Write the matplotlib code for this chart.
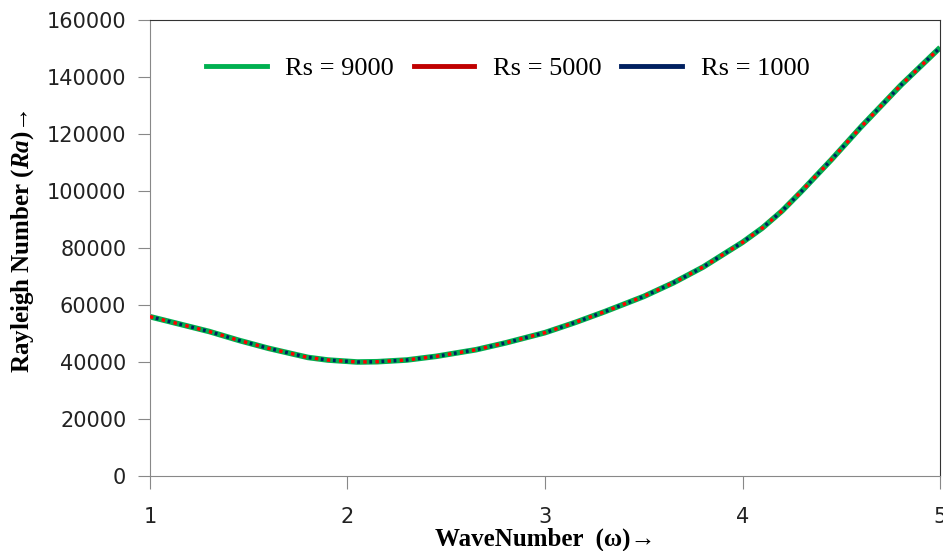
import numpy as np
import matplotlib
matplotlib.use('Agg')
import matplotlib.pyplot as plt
from matplotlib.lines import Line2D

plt.rcParams['mathtext.fontset'] = 'custom'
plt.rcParams['mathtext.it'] = 'Liberation Serif:italic:bold'
plt.rcParams['mathtext.rm'] = 'Liberation Serif:bold'

# wave number and critical Rayleigh number (curves coincide for all Rs)
wave = [1.0, 1.3, 1.45, 1.6, 1.8, 1.9, 2.05, 2.15, 2.3, 2.45, 2.65, 2.8, 3.0,
        3.15, 3.3, 3.5, 3.65, 3.8, 4.0, 4.1, 4.2, 4.3, 4.45, 4.6, 4.8, 5.0]
ra_9000 = [55900, 50700, 47600, 44800, 41600, 40700, 40000, 40100, 40700,
           42000, 44300, 46700, 50300, 53800, 57600, 63000, 67800, 73300,
           82000, 87000, 93000, 100000, 111000, 122500, 137000, 150300]
ra_5000 = list(ra_9000)
ra_1000 = list(ra_9000)
labels = ['Rs = 9000', 'Rs = 5000', 'Rs = 1000']
colors = ['#00b050', '#c00000', '#002060']

fig = plt.figure(figsize=(9.43, 5.51), dpi=100)
ax = fig.add_axes([0.159, 0.136, 0.838, 0.828])

ax.plot(wave, ra_9000, color=colors[0], lw=4, solid_capstyle='butt', zorder=2)
ax.plot(wave, ra_5000, color='#ff0000', lw=2.5, ls=(0, (1.0, 2.5)), zorder=3)
ax.plot(wave, ra_1000, color=colors[2], lw=2.5, ls=(-1.75, (0.8, 2.7)), zorder=4)

ax.set_xlim(1, 5)
ax.set_ylim(0, 160000)
ax.set_xticks([1, 2, 3, 4, 5])
ax.set_yticks(np.arange(0, 160001, 20000))
ax.tick_params(axis='both', direction='out', length=9, color='#888888',
               labelsize=15, labelcolor='#222222')
ax.tick_params(axis='x', pad=13)
ax.tick_params(axis='y', pad=8)
for side in ['left', 'bottom']:
    ax.spines[side].set_color('#888888')
for side in ['top', 'right']:
    ax.spines[side].set_color('#333333')

ax.set_xlabel('WaveNumber  (\u03c9)\u2192', fontfamily='Liberation Serif',
              fontweight='bold', fontsize=18)
ax.set_ylabel('Rayleigh Number ($Ra$)\u2192', fontfamily='Liberation Serif',
              fontweight='bold', fontsize=18)
ax.xaxis.set_label_coords(0.5, -0.112)
ax.yaxis.set_label_coords(-0.144, 0.515)

handles = [Line2D([], [], color=c, lw=3.5) for c in colors]
ax.legend(handles, labels, loc='center left', bbox_to_anchor=(0.071, 0.893),
          ncol=3, frameon=False, handlelength=2.3, handletextpad=0.7,
          columnspacing=0.75, borderpad=0, borderaxespad=0,
          prop={'family': 'Liberation Serif', 'size': 19})

fig.savefig('out.png', dpi=100)
